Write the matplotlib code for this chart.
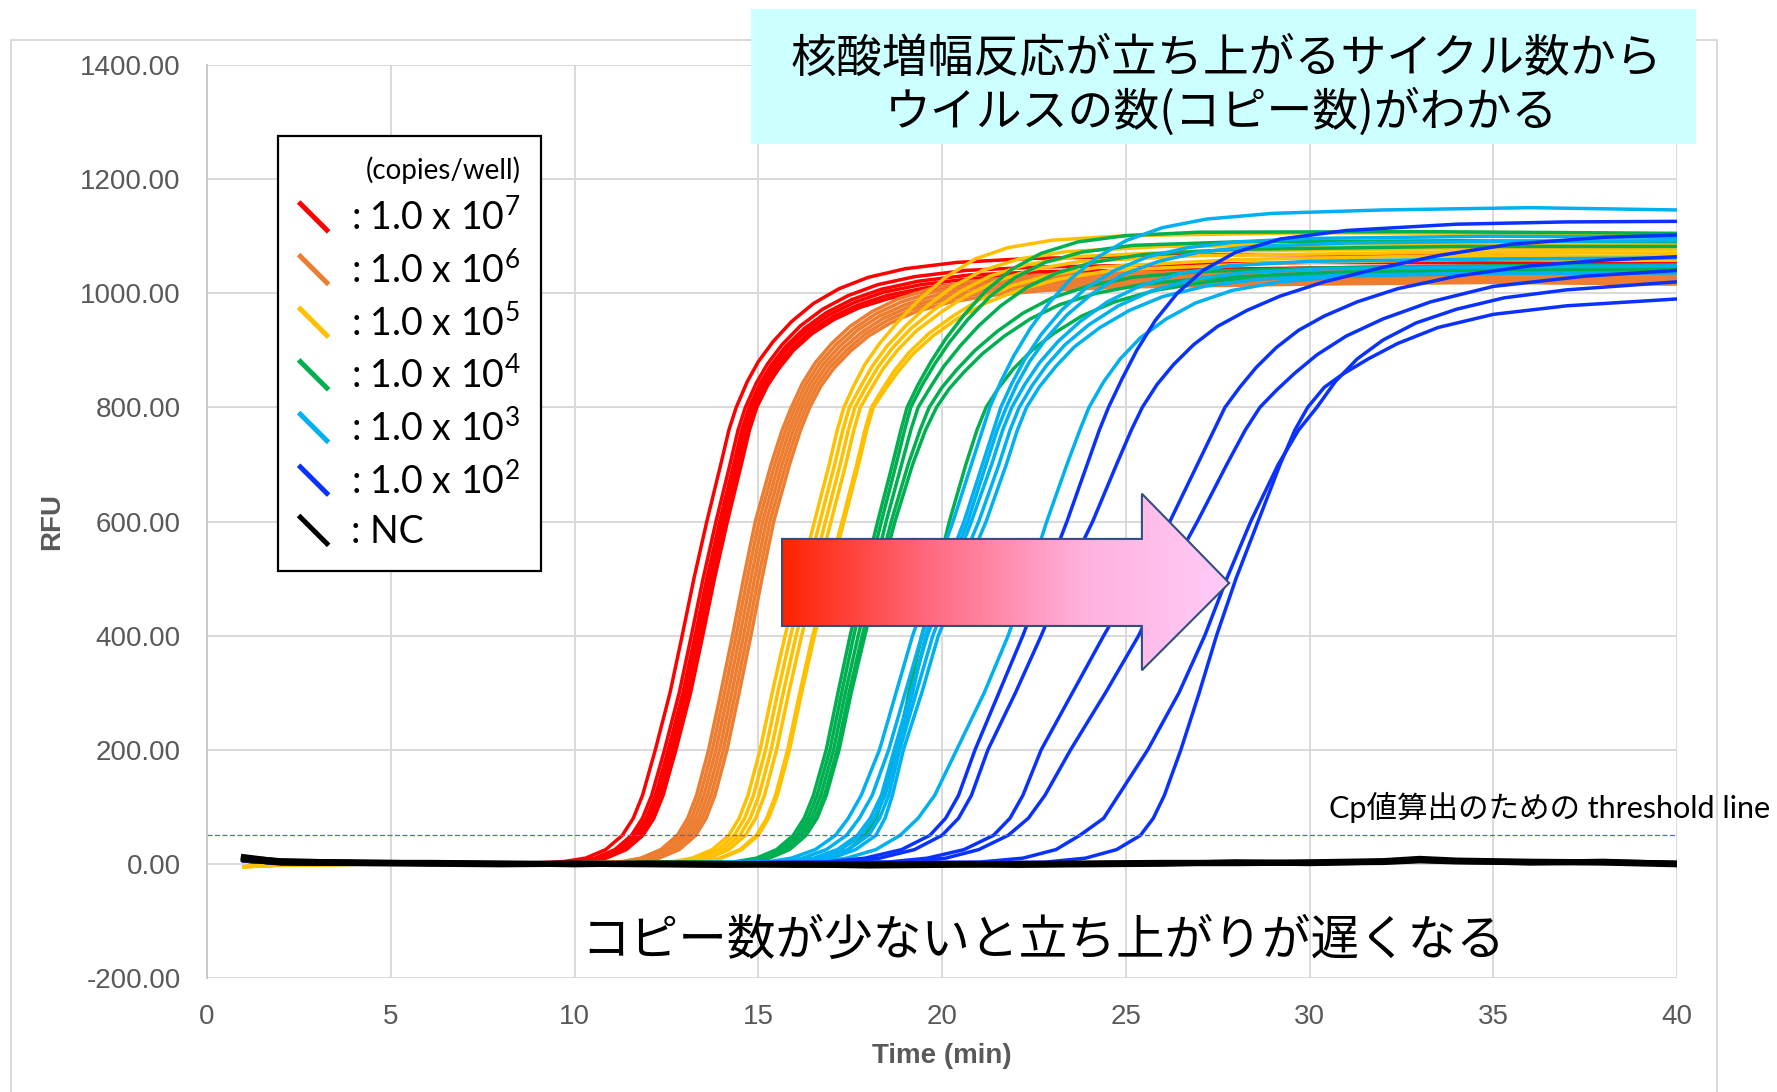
import matplotlib
matplotlib.use("Agg")
import matplotlib.pyplot as plt
import numpy as np
from matplotlib.lines import Line2D
from matplotlib.patches import Rectangle, Polygon
from matplotlib.legend_handler import HandlerBase
from matplotlib.colors import LinearSegmentedColormap
from matplotlib.ticker import FormatStrFormatter, MultipleLocator

plt.rcParams['font.family'] = ['Liberation Sans', 'Noto Sans CJK JP', 'DejaVu Sans']
plt.rcParams['axes.unicode_minus'] = False
plt.rcParams['mathtext.default'] = 'regular'

# === DATA ===
# each curve = baseline points + times where it crosses LEVELS + (t, RFU) points of the plateau
LEVELS = [3, 10, 25, 50, 80, 120, 200, 300, 400, 500, 600, 700, 760, 800]
BASE_T = [1, 2, 5, 8]

red_base = [10, 3, 1, 0]
red_rise = [
    [9.6, 10.3, 10.85, 11.3, 11.6, 11.85, 12.2, 12.6, 12.93, 13.25, 13.6, 13.98, 14.2, 14.4],
    [9.85, 10.55, 11.1, 11.55, 11.85, 12.1, 12.45, 12.85, 13.18, 13.5, 13.85, 14.23, 14.45, 14.65],
    [9.95, 10.65, 11.2, 11.65, 11.95, 12.2, 12.55, 12.95, 13.28, 13.6, 13.95, 14.33, 14.55, 14.75],
    [10.02, 10.72, 11.27, 11.72, 12.02, 12.27, 12.62, 13.02, 13.35, 13.67, 14.02, 14.4, 14.62, 14.82],
    [10.1, 10.8, 11.35, 11.8, 12.1, 12.35, 12.7, 13.1, 13.43, 13.75, 14.1, 14.48, 14.7, 14.9],
    [10.16, 10.86, 11.41, 11.86, 12.16, 12.41, 12.76, 13.16, 13.49, 13.81, 14.16, 14.54, 14.76, 14.96],
]
red_top = [
    [(14.7, 845), (15.0, 880), (15.4, 915), (15.9, 950), (16.5, 982), (17.2, 1008), (18.0, 1028), (19.0, 1043), (20.4, 1054), (22.4, 1061), (28, 1068), (34, 1066), (40, 1062)],
    [(14.95, 843), (15.25, 876), (15.65, 910), (16.15, 943), (16.75, 972), (17.45, 996), (18.25, 1015), (19.25, 1029), (20.65, 1040), (22.65, 1046), (30, 1054), (40, 1052)],
    [(15.05, 842), (15.35, 874), (15.75, 907), (16.25, 938), (16.85, 966), (17.55, 989), (18.35, 1007), (19.35, 1021), (20.75, 1032), (22.75, 1038), (32, 1046), (40, 1042)],
    [(15.12, 841), (15.42, 872), (15.82, 905), (16.32, 935), (16.92, 962), (17.62, 984), (18.42, 1002), (19.42, 1015), (20.82, 1026), (22.82, 1032), (32, 1040), (40, 1036)],
    [(15.2, 840), (15.5, 870), (15.9, 902), (16.4, 932), (17.0, 958), (17.7, 979), (18.5, 996), (19.5, 1009), (20.9, 1019), (22.9, 1026), (33, 1034), (40, 1030)],
    [(15.26, 839), (15.56, 868), (15.96, 900), (16.46, 929), (17.06, 954), (17.76, 975), (18.56, 991), (19.56, 1004), (20.96, 1014), (22.96, 1021), (33, 1030), (40, 1026)],
]

orange_base = [12, 2, 0, 1]
orange_rise = [
    [11.2, 11.8, 12.35, 12.8, 13.08, 13.32, 13.65, 13.98, 14.3, 14.6, 14.92, 15.35, 15.65, 15.9],
    [11.3, 11.9, 12.45, 12.9, 13.18, 13.42, 13.75, 14.08, 14.4, 14.7, 15.02, 15.45, 15.75, 16.0],
    [11.4, 12.0, 12.55, 13.0, 13.28, 13.52, 13.85, 14.18, 14.5, 14.8, 15.12, 15.55, 15.85, 16.1],
    [11.5, 12.1, 12.65, 13.1, 13.38, 13.62, 13.95, 14.28, 14.6, 14.9, 15.22, 15.65, 15.95, 16.2],
    [11.6, 12.2, 12.75, 13.2, 13.48, 13.72, 14.05, 14.38, 14.7, 15.0, 15.32, 15.75, 16.05, 16.3],
    [11.7, 12.3, 12.85, 13.3, 13.58, 13.82, 14.15, 14.48, 14.8, 15.1, 15.42, 15.85, 16.15, 16.4],
]
orange_top = [
    [(16.2, 842), (16.55, 878), (17.0, 912), (17.5, 942), (18.1, 968), (18.8, 990), (19.7, 1008), (20.8, 1021), (22.3, 1030), (25, 1036), (30, 1040), (35, 1040), (40, 1038)],
    [(16.3, 841), (16.65, 876), (17.1, 909), (17.6, 938), (18.2, 964), (18.9, 985), (19.8, 1003), (20.9, 1016), (22.4, 1025), (25, 1031), (30, 1035), (35, 1036), (40, 1034)],
    [(16.4, 840), (16.75, 874), (17.2, 906), (17.7, 935), (18.3, 960), (19.0, 980), (19.9, 998), (21.0, 1011), (22.5, 1020), (25, 1026), (30, 1030), (35, 1031), (40, 1029)],
    [(16.5, 839), (16.85, 872), (17.3, 903), (17.8, 931), (18.4, 956), (19.1, 976), (20.0, 993), (21.1, 1006), (22.6, 1015), (25, 1021), (30, 1025), (35, 1027), (40, 1024)],
    [(16.6, 838), (16.95, 870), (17.4, 900), (17.9, 928), (18.5, 952), (19.2, 972), (20.1, 989), (21.2, 1001), (22.7, 1010), (25, 1016), (30, 1021), (35, 1023), (40, 1020)],
    [(16.7, 837), (17.05, 868), (17.5, 898), (18.0, 925), (18.6, 948), (19.3, 968), (20.2, 984), (21.3, 996), (22.8, 1005), (25, 1011), (30, 1016), (35, 1019), (40, 1016)],
]

yellow_base = [-5, -2, 0, 0]
yellow_rise = [
    [12.6, 13.2, 13.75, 14.2, 14.48, 14.72, 15.05, 15.38, 15.73, 16.13, 16.53, 16.93, 17.15, 17.33],
    [12.75, 13.35, 13.9, 14.35, 14.63, 14.87, 15.2, 15.53, 15.88, 16.28, 16.68, 17.08, 17.3, 17.48],
    [12.9, 13.5, 14.05, 14.5, 14.78, 15.02, 15.35, 15.68, 16.03, 16.43, 16.83, 17.23, 17.45, 17.63],
    [13.05, 13.65, 14.2, 14.65, 14.93, 15.17, 15.5, 15.83, 16.18, 16.58, 16.98, 17.38, 17.6, 17.78],
    [13.35, 13.95, 14.5, 14.95, 15.23, 15.47, 15.8, 16.13, 16.48, 16.88, 17.28, 17.68, 17.9, 18.08],
    [13.4, 14.0, 14.55, 15.0, 15.28, 15.52, 15.85, 16.18, 16.53, 16.93, 17.33, 17.73, 17.95, 18.13],
]
yellow_top = [
    [(17.6, 838), (17.9, 875), (18.3, 912), (18.8, 950), (19.4, 990), (20.1, 1028), (20.9, 1060), (21.8, 1080), (23, 1093), (25, 1101), (30, 1106), (35, 1105), (40, 1102)],
    [(17.78, 836), (18.1, 872), (18.5, 907), (19.0, 942), (19.6, 978), (20.3, 1012), (21.1, 1040), (22.1, 1060), (23.4, 1073), (26, 1082), (33, 1086), (40, 1084)],
    [(17.93, 835), (18.25, 870), (18.65, 904), (19.15, 938), (19.8, 972), (20.5, 1003), (21.3, 1030), (22.3, 1050), (23.6, 1064), (27, 1074), (34, 1078), (40, 1076)],
    [(18.08, 834), (18.4, 868), (18.8, 901), (19.3, 934), (20.0, 968), (20.7, 997), (21.5, 1022), (22.5, 1042), (23.8, 1056), (27, 1066), (34, 1072), (40, 1070)],
    [(18.38, 832), (18.7, 864), (19.1, 896), (19.65, 930), (20.3, 960), (21.0, 988), (21.9, 1013), (23, 1033), (24.3, 1046), (28, 1059), (34, 1066), (40, 1064)],
    [(18.45, 831), (18.8, 862), (19.2, 893), (19.75, 925), (20.4, 955), (21.2, 983), (22.1, 1006), (23.2, 1025), (24.6, 1040), (29, 1053), (35, 1060), (40, 1058)],
]

green_base = [6, 2, 0, 1]
green_rise = [
    [14.3, 14.95, 15.5, 15.95, 16.25, 16.5, 16.85, 17.17, 17.5, 17.87, 18.25, 18.65, 18.88, 19.05],
    [14.4, 15.05, 15.6, 16.05, 16.35, 16.6, 16.95, 17.27, 17.6, 17.97, 18.35, 18.75, 18.98, 19.15],
    [14.5, 15.15, 15.7, 16.15, 16.45, 16.7, 17.05, 17.37, 17.72, 18.1, 18.48, 18.9, 19.15, 19.35],
    [14.6, 15.25, 15.8, 16.25, 16.55, 16.8, 17.15, 17.47, 17.83, 18.22, 18.62, 19.08, 19.4, 19.65],
    [14.65, 15.3, 15.85, 16.3, 16.6, 16.85, 17.2, 17.53, 17.9, 18.3, 18.72, 19.2, 19.55, 19.85],
    [16.3, 16.95, 17.45, 17.9, 18.2, 18.42, 18.78, 19.1, 19.45, 19.82, 20.2, 20.65, 20.95, 21.2],
]
green_top = [
    [(19.35, 840), (19.7, 880), (20.1, 920), (20.6, 962), (21.2, 1005), (21.9, 1042), (22.7, 1070), (23.7, 1090), (25, 1101), (27, 1107), (33, 1108), (40, 1105)],
    [(19.45, 838), (19.8, 876), (20.2, 914), (20.7, 954), (21.3, 994), (22.0, 1028), (22.8, 1054), (23.8, 1072), (25.2, 1084), (28, 1090), (34, 1092), (40, 1090)],
    [(19.7, 837), (20.05, 872), (20.5, 908), (21.0, 943), (21.6, 978), (22.3, 1010), (23.1, 1035), (24.1, 1054), (25.5, 1068), (28, 1077), (34, 1082), (40, 1082)],
    [(20.0, 835), (20.4, 866), (20.9, 900), (21.5, 933), (22.2, 965), (23.0, 992), (24.0, 1013), (25.2, 1028), (27, 1038), (30, 1044), (35, 1048), (40, 1050)],
    [(20.2, 833), (20.6, 862), (21.1, 894), (21.7, 925), (22.4, 955), (23.2, 980), (24.2, 1000), (25.5, 1016), (27.3, 1027), (31, 1036), (36, 1040), (40, 1042)],
    [(21.55, 835), (21.95, 868), (22.45, 900), (23.05, 930), (23.8, 960), (24.7, 985), (25.8, 1005), (27.2, 1020), (29, 1032), (32, 1040), (36, 1045), (40, 1046)],
]

lblue_base = [8, 2, 0, 0]
lblue_rise = [
    [15.2, 15.9, 16.55, 17.1, 17.45, 17.8, 18.3, 18.75, 19.2, 19.75, 20.3, 20.8, 21.1, 21.3],
    [15.5, 16.2, 16.85, 17.4, 17.75, 18.1, 18.55, 19.0, 19.45, 20.0, 20.6, 21.1, 21.4, 21.6],
    [15.8, 16.5, 17.15, 17.7, 18.05, 18.35, 18.7, 19.15, 19.6, 20.2, 20.8, 21.35, 21.65, 21.9],
    [15.9, 16.6, 17.25, 17.8, 18.15, 18.45, 18.8, 19.2, 19.55, 20.1, 20.7, 21.2, 21.5, 21.75],
    [16.1, 16.8, 17.45, 18.0, 18.3, 18.55, 18.85, 19.3, 19.75, 20.35, 21.0, 21.55, 21.85, 22.1],
    [16.3, 17.0, 17.65, 18.2, 18.45, 18.65, 18.95, 19.45, 19.9, 20.55, 21.2, 21.75, 22.05, 22.3],
    [16.6, 17.4, 18.2, 18.86, 19.35, 19.8, 20.4, 21.15, 21.8, 22.35, 22.85, 23.4, 23.75, 24.0],
]
lblue_top = [
    [(21.6, 845), (21.95, 890), (22.4, 938), (22.9, 982), (23.5, 1025), (24.2, 1062), (25.0, 1092), (26, 1115), (27.2, 1130), (29, 1140), (32, 1146), (36, 1150), (40, 1146)],
    [(21.9, 842), (22.25, 884), (22.7, 928), (23.25, 970), (23.9, 1008), (24.7, 1040), (25.6, 1064), (26.7, 1080), (28, 1090), (30, 1096), (35, 1100), (40, 1098)],
    [(22.25, 840), (22.65, 878), (23.15, 915), (23.75, 950), (24.5, 985), (25.4, 1013), (26.5, 1035), (27.8, 1048), (30, 1056), (35, 1060), (40, 1062)],
    [(22.05, 842), (22.4, 882), (22.85, 922), (23.4, 962), (24.1, 1000), (24.9, 1032), (25.9, 1056), (27, 1072), (28.5, 1082), (31, 1088), (35, 1091), (40, 1092)],
    [(22.45, 838), (22.85, 874), (23.35, 910), (24.0, 945), (24.8, 978), (25.7, 1004), (26.8, 1024), (28.2, 1036), (30.5, 1043), (35, 1046), (40, 1048)],
    [(22.65, 836), (23.1, 872), (23.6, 906), (24.3, 940), (25.1, 970), (26.0, 994), (27.2, 1013), (28.7, 1025), (31, 1032), (35, 1035), (40, 1036)],
    [(24.4, 845), (24.85, 885), (25.4, 922), (26.1, 955), (26.9, 983), (27.9, 1005), (29.2, 1020), (31, 1030), (35, 1035), (40, 1036)],
]

blue_base = [5, 1, 0, 0]
blue_rise = [
    [16.8, 17.9, 18.9, 19.67, 20.1, 20.45, 20.9, 21.55, 22.2, 22.8, 23.4, 23.95, 24.28, 24.53],
    [17.3, 18.3, 19.25, 20.0, 20.45, 20.8, 21.25, 22.0, 22.7, 23.35, 24.1, 24.75, 25.15, 25.45],
    [18.5, 19.6, 20.6, 21.4, 21.85, 22.2, 22.7, 23.55, 24.4, 25.3, 26.2, 26.95, 27.4, 27.7],
    [19.0, 20.1, 21.0, 21.8, 22.35, 22.8, 23.5, 24.45, 25.35, 26.1, 26.95, 27.75, 28.25, 28.65],
    [21.0, 22.2, 23.1, 23.75, 24.4, 24.8, 25.6, 26.45, 27.15, 27.75, 28.4, 29.15, 29.7, 30.2],
    [22.8, 23.9, 24.75, 25.4, 25.75, 26.05, 26.5, 27.0, 27.47, 28.0, 28.6, 29.2, 29.6, 29.95],
]
blue_top = [
    [(24.9, 850), (25.3, 900), (25.8, 952), (26.4, 1000), (27.1, 1040), (28.0, 1072), (29.2, 1095), (31, 1110), (34, 1121), (37, 1125), (40, 1126)],
    [(25.85, 840), (26.3, 875), (26.85, 910), (27.5, 942), (28.3, 970), (29.2, 995), (30.4, 1020), (31.9, 1044), (33.5, 1066), (35.5, 1086), (38, 1098), (40, 1102)],
    [(28.1, 835), (28.55, 870), (29.1, 905), (29.7, 935), (30.4, 960), (31.3, 985), (32.4, 1008), (34, 1030), (36, 1048), (38, 1058), (40, 1064)],
    [(29.1, 830), (29.6, 860), (30.2, 892), (31.0, 925), (32, 955), (33.3, 985), (35, 1012), (37.5, 1030), (40, 1040)],
    [(30.7, 845), (31.3, 885), (32, 918), (32.9, 948), (34, 972), (35.3, 992), (37, 1006), (40, 1020)],
    [(30.4, 835), (30.9, 858), (31.6, 885), (32.4, 912), (33.5, 940), (35, 963), (37, 978), (40, 990)],
]

nc_t = [1, 2, 4, 6, 8, 10, 12, 14, 16, 18, 20, 22, 24, 26, 28, 30, 32, 33, 34, 36, 38, 40]
nc_runs = [
    [12, 4, 3, 1, 0, 1, 0, -1, 0, -2, -1, 0, 1, 2, 2, 3, 5, 9, 6, 4, 3, 1],
    [8, 2, 1, 0, -1, 0, -1, -2, -1, -3, -2, -1, 0, 1, 1, 2, 3, 6, 4, 3, 2, -1],
    [10, 5, 2, 2, 1, -1, 1, 0, -2, -1, 0, -2, -1, 0, 3, 1, 4, 7, 5, 2, 4, 0],
]

THRESHOLD = 50

COLORS = ['#FF0000', '#ED7D31', '#FFC000', '#00B050', '#00B0F0', '#0A32FF', '#000000']
LEGEND_LABELS = [': 1.0 x 10$^{7}$', ': 1.0 x 10$^{6}$', ': 1.0 x 10$^{5}$',
                 ': 1.0 x 10$^{4}$', ': 1.0 x 10$^{3}$', ': 1.0 x 10$^{2}$', ': NC']

groups = [
    (red_base, red_rise, red_top),
    (orange_base, orange_rise, orange_top),
    (yellow_base, yellow_rise, yellow_top),
    (green_base, green_rise, green_top),
    (lblue_base, lblue_rise, lblue_top),
    (blue_base, blue_rise, blue_top),
]


class DiagonalHandler(HandlerBase):
    # legend key drawn as a short line going down to the right
    def create_artists(self, legend, orig_handle, xdescent, ydescent,
                       width, height, fontsize, trans):
        x0, y0 = -xdescent, -ydescent
        line = Line2D([x0, x0 + width], [y0 + height, y0],
                      color=orig_handle.get_color(),
                      lw=orig_handle.get_linewidth(), solid_capstyle='butt')
        line.set_transform(trans)
        return [line]


W, H = 1777, 1092
fig = plt.figure(figsize=(W / 100, H / 100), dpi=100)

# outer chart frame
fig.add_artist(Rectangle((11 / W, -0.05), (1717 - 11) / W, 1.05 - 40 / H,
                         transform=fig.transFigure, fill=False,
                         edgecolor='#D9D9D9', lw=1.4, zorder=0))

ax = fig.add_axes([207 / W, 1 - 978 / H, 1470 / W, 913 / H])

for (base, rise, top), color in zip(groups, COLORS):
    for r, tp in zip(rise, top):
        t = BASE_T + r + [p[0] for p in tp]
        y = base + LEVELS + [p[1] for p in tp]
        ax.plot(t, y, color=color, lw=2.5, solid_joinstyle='round')

for run in nc_runs:
    ax.plot(nc_t, run, color='black', lw=4.2, solid_joinstyle='round')

ax.axhline(THRESHOLD, color='#4472C4', lw=0.9, ls=(0, (4, 2)))

ax.set_xlim(0, 40)
ax.set_ylim(-200, 1400)
ax.xaxis.set_major_locator(MultipleLocator(5))
ax.yaxis.set_major_locator(MultipleLocator(200))
ax.yaxis.set_major_formatter(FormatStrFormatter('%.2f'))
ax.grid(True, color='#D9D9D9', lw=1.4)
ax.set_axisbelow(True)
for side in ['top', 'right', 'bottom']:
    ax.spines[side].set_visible(False)
ax.spines['left'].set_color('#C8C8C8')
ax.spines['left'].set_linewidth(1.4)
ax.tick_params(length=0, labelsize=20, labelcolor='#595959')
ax.tick_params(axis='y', pad=19)
ax.tick_params(axis='x', pad=19)

ax.set_xlabel('Time (min)', fontsize=20, fontweight='bold', color='#595959')
ax.set_ylabel('RFU', fontsize=20, fontweight='bold', color='#595959')
ax.xaxis.set_label_coords(0.5, -0.085)
ax.xaxis.label.set_va('center')
ax.yaxis.set_label_coords(-0.1054, 0.5)
ax.yaxis.label.set_va('center')
ax.yaxis.label.set_ha('center')

# legend
handles = [Line2D([], [], color=c, lw=3.6) for c in COLORS]
leg = ax.legend(handles, LEGEND_LABELS, handler_map={Line2D: DiagonalHandler()},
                loc='upper left', bbox_to_anchor=(278 / W, 1 - 136 / H),
                bbox_transform=fig.transFigure,
                prop={'family': ['Lato'], 'size': 27},
                title='(copies/well)',
                title_fontproperties={'family': ['Lato'], 'size': 20},
                alignment='right', frameon=True, fancybox=False,
                edgecolor='black', framealpha=1, borderpad=0.55,
                labelspacing=0.38, handlelength=0.8, handleheight=0.85,
                handletextpad=0.6, borderaxespad=0)
leg.get_frame().set_linewidth(1.6)

# threshold note
fig.text(1329 / W, 1 - 807 / H, 'Cp値算出のための threshold line',
         family=['Lato', 'Noto Sans CJK JP'], fontsize=22, ha='left', va='center', zorder=6)

# bottom message
fig.text(1043 / W, 1 - 941 / H, 'コピー数が少ないと立ち上がりが遅くなる',
         family=['Noto Sans CJK JP'], fontsize=35, ha='center', va='center', zorder=6)

# title box
fig.add_artist(Rectangle((751 / W, 1 - 144 / H), (1696 - 751) / W, (144 - 9) / H,
                         transform=fig.transFigure, facecolor='#CCFFFF',
                         edgecolor='none', zorder=5))
fig.text(1226 / W, 1 - 58.5 / H, '核酸増幅反応が立ち上がるサイクル数から',
         family=['Noto Sans CJK JP'], fontsize=33, ha='center', va='center', zorder=6)
fig.text(1221 / W, 1 - 113 / H, 'ウイルスの数(コピー数)がわかる',
         family=['Noto Sans CJK JP'], fontsize=33, ha='center', va='center', zorder=6)

# gradient arrow
arr_ax = fig.add_axes([781 / W, 1 - 671 / H, 450 / W, 178 / H], zorder=4)
arr_ax.set_xlim(0, 1)
arr_ax.set_ylim(0, 1)
arr_ax.axis('off')
arrow_xy = [(0.002, 0.253), (0.802, 0.253), (0.802, 0.004), (0.996, 0.494),
            (0.802, 0.996), (0.802, 0.742), (0.002, 0.742)]
cmap = LinearSegmentedColormap.from_list('arrow', ['#FF2200', '#FF6A80', '#FFB0DC', '#FFCCFA'])
grad = np.linspace(0, 1, 256).reshape(1, -1)
img = arr_ax.imshow(grad, cmap=cmap, extent=[0, 1, 0, 1], aspect='auto')
outline = Polygon(arrow_xy, closed=True, facecolor='none', edgecolor='#2F4F80', lw=1.5)
arr_ax.add_patch(outline)
img.set_clip_path(outline)

fig.savefig('out.png', dpi=100)
